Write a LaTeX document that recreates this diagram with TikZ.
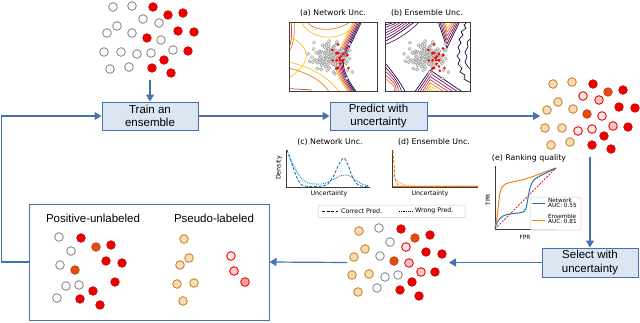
\documentclass[tikz,border=0pt]{standalone}
\usepackage{fontspec}
\setmainfont{Liberation Sans}
\newfontfamily\plotfont{DejaVu Sans}
\usetikzlibrary{arrows.meta}
\definecolor{flow}{RGB}{70,114,176}
\definecolor{boxfill}{RGB}{220,230,242}
\definecolor{dotgray}{RGB}{140,140,140}
\definecolor{dotred}{RGB}{236,0,0}
\definecolor{dotredline}{RGB}{200,0,0}
\definecolor{dotdorange}{RGB}{230,75,15}
\definecolor{tanfill}{RGB}{252,218,182}
\definecolor{tanline}{RGB}{200,135,45}
\definecolor{pinkA}{RGB}{253,234,234}
\definecolor{pinkB}{RGB}{249,200,200}
\definecolor{pinkC}{RGB}{244,165,165}
\definecolor{mplblue}{RGB}{31,119,180}
\definecolor{mplorange}{RGB}{255,127,14}
\definecolor{mplred}{RGB}{214,39,40}
\definecolor{axgray}{RGB}{60,60,60}
\definecolor{infA}{RGB}{30,10,60}
\definecolor{infB}{RGB}{101,21,110}
\definecolor{infC}{RGB}{159,42,99}
\definecolor{infD}{RGB}{212,72,66}
\definecolor{infE}{RGB}{245,125,21}
\definecolor{infF}{RGB}{250,193,39}
\newcommand\myscatter[2]{%
  \pgfmathsetseed{1234}%
  \foreach \i in {1,...,150}{%
    \pgfmathsetmacro\px{#1+9.5*(rand+rand+rand)}%
    \pgfmathsetmacro\py{#2+7.5*(rand+rand+rand)}%
    \draw[sdot] (\px,\py) circle (1.6pt);}%
  \foreach \i in {1,...,24}{%
    \pgfmathsetmacro\px{#1+11+6*(rand+rand)}%
    \pgfmathsetmacro\py{#2+1+9*(rand+rand)}%
    \fill[red] (\px,\py) circle (1.4pt);}%
}
\begin{document}
\begin{tikzpicture}[x=1pt,y=-1pt,
  stepbox/.style={draw=flow, fill=boxfill, line width=1pt, minimum width=96pt,
    minimum height=28pt, align=center, inner sep=1pt,
    font=\fontsize{11.5}{13.5}\selectfont},
  conn/.style={draw=flow, line width=1.2pt},
  arr/.style={conn, -{Triangle[length=7pt,width=8pt]}},
  gd/.style={draw=dotgray, fill=white, line width=0.9pt},
  rd/.style={draw=dotredline, fill=dotred, line width=0.6pt},
  od/.style={draw=dotdorange!80!black, fill=dotdorange, line width=0.6pt},
  td/.style={draw=tanline, fill=tanfill, line width=0.9pt},
  pd/.style={draw=red, fill=#1, line width=0.9pt},
  pd/.default=pinkA,
  sdot/.style={draw=gray!80, fill=gray!15, line width=0.4pt},
  ttl/.style={font=\plotfont\fontsize{7.8}{9}\selectfont, inner sep=0pt},
  axl/.style={font=\plotfont\fontsize{6.3}{7}\selectfont, inner sep=0pt},
  lgl/.style={font=\plotfont\fontsize{5.7}{6.3}\selectfont, inner sep=0pt, anchor=west},
  axis/.style={draw=axgray, line width=0.6pt},
  ct/.style={line width=0.7pt}
]
\useasboundingbox (0,0) rectangle (640,322);
\def\R{4.3pt}

% ---------- process boxes ----------
\node[stepbox] (train) at (150,116) {Train an\\ensemble};
\node[stepbox, minimum width=97pt] (predict) at (378.5,116) {Predict with\\uncertainty};
\node[stepbox, minimum height=29pt] (select) at (590,262.5) {Select with\\uncertainty};
\node[draw=flow, line width=1pt, fill=white, minimum width=240pt, minimum height=116pt, inner sep=0pt] (pubox) at (149,262) {};
\node[font=\fontsize{11.5}{13}\selectfont] (putitle) at (93,218) {Positive-unlabeled};
\node[font=\fontsize{11.5}{13}\selectfont] (pltitle) at (214,218) {Pseudo-labeled};

% ---------- cluster 1 (top left) ----------
\foreach \x/\y in {113/7,132/6,143/19,159/23,117/26,107/33,132/33,161/40,104/52,121/52,137/54,151/53,173/50,110/69,129/67}
  \draw[gd] (\x,\y) circle (\R);
\foreach \x/\y in {153/7,168/15,183/13,178/31,194/32,147/38,188/51,164/60,152/68,171/73}
  \draw[rd] (\x,\y) circle (\R);
\coordinate (c1bot) at (150,80);

% ---------- cluster 2 (top right) ----------
\foreach \x/\y in {553/84,572/82,558/102,547/110,573/109,545/128,562/128,551/145,570/142}
  \draw[td] (\x,\y) circle (\R);
\foreach \x/\y/\f in {583/96/pinkA,599/100/pinkB,602/116/pinkA,578/131/pinkA,592/129/pinkA,613/126/pinkB}
  \draw[pd=\f] (\x,\y) circle (\R);
\foreach \x/\y in {593/84,623/90,619/107,635/108,628/127,604/136,592/145,611/149}
  \draw[rd] (\x,\y) circle (\R);
\foreach \x/\y in {608/92,587/114}
  \draw[od] (\x,\y) circle (\R);
\coordinate (c2left) at (540,116);
\coordinate (c2bot) at (590,157);

% ---------- cluster 3 (bottom middle) ----------
\foreach \x/\y in {359/231,365/249,354/257,352/275,369/274,358/292}
  \draw[td] (\x,\y) circle (\R);
\foreach \x/\y in {379/228,390/242,380/256,385/277,398/275,377/288}
  \draw[gd] (\x,\y) circle (\R);
\foreach \x/\y in {401/229,430/235,426/252,442/254,435/272,412/282,400/290,419/296}
  \draw[rd] (\x,\y) circle (\R);
\foreach \x/\y in {415/238,394/261}
  \draw[od] (\x,\y) circle (\R);
\foreach \x/\y/\f in {406/247/pinkA,409/263/pinkB,421/272/pinkB}
  \draw[pd=\f] (\x,\y) circle (\R);
\coordinate (c3right) at (449,262.5);
\coordinate (c3left) at (347,262.5);

% ---------- box content ----------
\foreach \x/\y in {59/237,71/251,60/265,66/286,79/285,57/298}
  \draw[gd] (\x,\y) circle (\R);
\foreach \x/\y in {81/238,111/245,106/261,122/263,115/282,93/291,80/299,100/305}
  \draw[rd] (\x,\y) circle (\R);
\foreach \x/\y in {96/247,75/270}
  \draw[od] (\x,\y) circle (\R);
\foreach \x/\y in {184/239,189/258,180/265,177/284,194/283,183/301}
  \draw[td] (\x,\y) circle (\R);
\draw[pd=pinkA] (231,256) circle (\R);
\draw[pd=pinkB] (234,271) circle (\R);
\draw[pd=pinkC] (245,282) circle (\R);

% ---------- connectors ----------
\draw[arr] (c1bot) -- (train.north);
\draw[arr] (train.east) -- (predict.west);
\draw[arr] (predict.east) -- (c2left);
\draw[arr] (c2bot) -- (select.north);
\draw[arr] (select.west) -- (c3right);
\draw[arr] (c3left) -- (pubox.east);
\draw[arr] (pubox.west) -- ++(-27,0) |- (train.west);

% ---------- plot (a) ----------
\node[ttl] (ta) at (333,13) {(a) Network Unc.};
\begin{scope}
\clip (289,22) rectangle (377,91);
\fill[white] (289,22) rectangle (377,91);
\foreach \d/\c in {-7/infF,-5.5/infE,-4/infD,-2.6/infC,-1.3/infB,0/infA,1.3/infA}
  \draw[ct,\c,xshift=\d pt] (361,20) .. controls (352,40) and (343,55) .. (342,64) .. controls (343,75) and (350,85) .. (356,93);
\draw[ct,infD] (291,20) .. controls (292,32) and (292,40) .. (289,48);
\draw[ct,infE] (294,20) .. controls (295,34) and (294,44) .. (288,54);
\draw[ct,infF] (289,36) .. controls (312,48) and (312,62) .. (289,78);
\draw[ct,infE] (306,20) .. controls (312,33) and (340,32) .. (352,20);
\draw[ct,infF] (300,20) .. controls (310,42) and (340,40) .. (349,30);
\draw[ct,infE] (288,68) .. controls (306,72) and (322,80) .. (330,93);
\draw[ct,infF] (288,62) .. controls (310,66) and (330,78) .. (340,93);
\draw[ct,infD] (288,88.5) -- (312,90);
\myscatter{330}{57}
\end{scope}
\draw[axis] (289,22) rectangle (377,91);

% ---------- plot (b) ----------
\node[ttl] (tb) at (427,13) {(b) Ensemble Unc.};
\begin{scope}
\clip (385,22) rectangle (470,91);
\fill[white] (385,22) rectangle (470,91);
\foreach \k/\c in {0/infA,1/infB,2/infC,3/infB,4/infC,5/infB,6/infA}
  \draw[ct,\c] (384,{25+2.8*\k}) .. controls ({390+2*\k},{24+1.5*\k}) and ({393+3*\k},23) .. ({396+3.5*\k},21);
\draw[ct,infB] (384,45) .. controls (398,40) and (412,30) .. (420,21);
\foreach \k/\c in {0/infA,1/infB,2/infC,3/infD,4/infE}
  \draw[ct,\c] (384,{62+4*\k}) .. controls (393,{72+3*\k}) and (400,{82+2*\k}) .. ({406-4*\k},93);
\foreach \k/\c in {0/infA,1/infB,2/infC,3/infD,4/infE,5/infF}
  \draw[ct,\c] ({438+1.5*\k},21) -- (447,{48-4*\k}) -- ({460-1.5*\k},21);
\foreach \k/\c in {0/infA,1/infB,2/infC,3/infD,4/infE,5/infF,6/infF}
  \draw[ct,\c] ({414+2.5*\k},93) -- (430,{70+3.2*\k}) -- ({464-4.5*\k},93);
\draw[ct,infA] (468,21) -- (464,25) -- (466,28) -- (461,32) -- (463,35) -- (459,39) -- (461,43) -- (458,47) -- (460,52) -- (457,56) -- (460,60) -- (458,64) -- (462,68) -- (460,72) -- (465,75) -- (464,79) -- (471,83);
\draw[ct,infA] (471,38) -- (467,42) -- (468,47) -- (465,52) -- (467,57) -- (465,62) -- (468,67) -- (471,70);
\begin{scope}[xshift=96pt]
\myscatter{330}{57}
\end{scope}
\end{scope}
\draw[axis] (385,22) rectangle (470,91);

% ---------- plot (c) ----------
\node[ttl] (tc) at (330,142) {(c) Network Unc.};
\draw[axis] (286,150) -- (286,187) -- (370,187);
\node[axl, rotate=90] (yc) at (279,168) {Density};
\node[axl] (xc) at (329,193.5) {Uncertainty};
\draw[mplblue, line width=0.9pt, dash pattern=on 3pt off 1.6pt] plot[smooth] coordinates {(287,150) (290,158) (294,170) (298,180) (302,185) (307,186.3) (320,186.3) (328,184) (334,175) (339,164) (344,158) (348,165) (352,176) (356,183) (361,186) (368,186.3)};
\draw[mplblue, line width=0.9pt, dash pattern=on 0.8pt off 1pt] plot[smooth] coordinates {(288,155) (292,162) (297,172) (302,179) (308,183) (315,184) (322,184) (328,182) (334,179) (340,176) (345,175) (350,176) (356,180) (362,184) (369,186)};

% ---------- plot (d) ----------
\node[ttl] (td) at (434,142) {(d) Ensemble Unc.};
\draw[axis] (392,150) -- (392,187) -- (478,187);
\node[axl] (xd) at (430,193.5) {Uncertainty};
\draw[mplorange!85!black, line width=0.8pt] (393,186.3) -- (478,186.3);
\draw[mplorange, line width=0.9pt, dash pattern=on 3pt off 1.6pt] plot[smooth] coordinates {(393,151) (394,165) (395,178) (397,184) (400,186) (410,186.3) (478,186.3)};
\draw[mplorange, line width=0.9pt, dash pattern=on 0.8pt off 1pt] plot[smooth] coordinates {(393,175) (396,180) (400,183) (405,185) (412,186) (478,186)};

% ---------- legend (c)(d) ----------
\draw[draw=gray!40, fill=white, rounded corners=1.5pt, line width=0.5pt] (318,205) rectangle (465,217.5);
\draw[black, line width=0.9pt, dash pattern=on 3pt off 1.6pt] (322,211) -- (338,211);
\node[axl, anchor=west] (lc) at (341,211) {Correct Pred.};
\draw[black, line width=0.8pt, dash pattern=on 0.8pt off 1pt] (399,211) -- (412,211);
\node[axl, anchor=west] (lw) at (415,211) {Wrong Pred.};

% ---------- plot (e) ----------
\node[ttl] (te) at (529,158) {(e) Ranking quality};
\draw[axis] (495,166) -- (495,229) -- (557,229);
\node[axl, rotate=90, font=\plotfont\fontsize{5.8}{6.5}\selectfont] (ye) at (488,200) {TPR};
\node[axl, font=\plotfont\fontsize{5.8}{6.5}\selectfont] (xe) at (525,237) {FPR};
\draw[mplred, line width=0.8pt, dash pattern=on 2pt off 1.3pt] (495,229) -- (556,168);
\draw[mplorange, line width=1pt] plot[smooth] coordinates {(495,228) (497,217) (500,193) (503,186) (508,183) (515,181.5) (525,179) (533,176.5) (542,173) (550,170) (556,168)};
\draw[mplblue, line width=1pt] plot[smooth] coordinates {(495,228) (498,221) (503,216) (510,214) (518,213) (523,212) (526,208) (528,198) (530,188) (533,181) (538,177) (546,173) (556,168)};
\draw[draw=gray!40, fill=white, fill opacity=0.85, rounded corners=1.5pt, line width=0.5pt] (530,197) rectangle (581,230);
\draw[mplblue, line width=1pt] (532,203) -- (545,203);
\node[lgl] (ln1) at (548,200) {Network};
\node[lgl] (ln2) at (548,205.5) {AUC: 0.55};
\draw[mplorange, line width=1pt] (532,220) -- (545,220);
\node[lgl] (le1) at (548,216) {Ensemble};
\node[lgl] (le2) at (548,221.5) {AUC: 0.81};
\end{tikzpicture}
\end{document}
